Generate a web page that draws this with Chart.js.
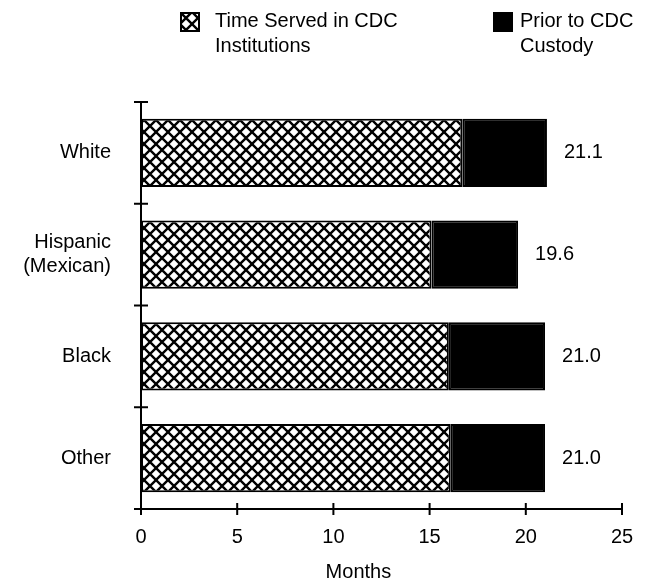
<!DOCTYPE html>
<html lang="en">
<head>
<meta charset="UTF-8">
<title>Months served by ethnicity</title>
<script src="https://cdn.jsdelivr.net/npm/chart.js@4.4.0/dist/chart.umd.min.js"></script>
<style>
    html, body { margin: 0; padding: 0; background: #fff; }
    #box { width: 662px; height: 583px; position: relative; }
</style>
</head>
<body>
<div id="box"><canvas id="myChart"></canvas></div>
<script>
    // values
    const groups = ['White', ['Hispanic', '(Mexican)'], 'Black', 'Other'];
    const seriesNames = [['Time Served in CDC', 'Institutions'], ['Prior to CDC', 'Custody']];
    const servedCDC = [16.7, 15.1, 16.0, 16.1];
    const priorCustody = [4.4, 4.5, 5.0, 4.9];
    const totalLabels = ['21.1', '19.6', '21.0', '21.0'];
    const xTicks = [0, 5, 10, 15, 20, 25];
    const xTitle = 'Months';

    const FONT = "'Liberation Sans', Arial, sans-serif";
    Chart.defaults.font.family = FONT;
    Chart.defaults.font.size = 20;
    Chart.defaults.color = '#000';

    // crosshatch fill
    function crosshatch() {
        const c = document.createElement('canvas');
        c.width = 12; c.height = 12;
        const g = c.getContext('2d');
        g.fillStyle = '#fff';
        g.fillRect(0, 0, 12, 12);
        g.strokeStyle = '#000';
        g.lineWidth = 2.4;
        g.beginPath();
        g.moveTo(-2, -2); g.lineTo(14, 14);
        g.moveTo(14, -2); g.lineTo(-2, 14);
        g.stroke();
        return g.createPattern(c, 'repeat');
    }
    const hatch = crosshatch();
    const fills = [hatch, '#000'];

    function seg(ctx, x1, y1, x2, y2) {
        ctx.beginPath(); ctx.moveTo(x1, y1); ctx.lineTo(x2, y2); ctx.stroke();
    }

    const decor = {
        id: 'decor',
        afterDraw(chart) {
            const ctx = chart.ctx, xs = chart.scales.x, ys = chart.scales.y;
            ctx.save();
            ctx.strokeStyle = '#000';
            ctx.lineWidth = 2;

            // ticks that cross the month axis
            xTicks.forEach(v => {
                const px = xs.getPixelForValue(v);
                seg(ctx, px, xs.top - 6, px, xs.top + 6);
            });
            // ticks between the groups
            const n = groups.length, step = (ys.bottom - ys.top) / n;
            for (let i = 0; i <= n; i++) {
                const py = ys.top + i * step;
                seg(ctx, ys.right - 7, py, ys.right + 7, py);
            }

            ctx.fillStyle = '#000';
            ctx.font = '20px ' + FONT;
            ctx.textBaseline = 'middle';

            // totals at the end of each bar
            const meta = chart.getDatasetMeta(1);
            meta.data.forEach((bar, i) => {
                ctx.textAlign = 'left';
                ctx.fillText(totalLabels[i], bar.x + 17, bar.y);
            });

            // axis title
            ctx.textAlign = 'center';
            ctx.fillText(xTitle, xs.getPixelForValue(11.3), 572);

            // legend
            const lx = [180, 493], tx = [215, 520];
            seriesNames.forEach((name, k) => {
                ctx.fillStyle = fills[k];
                ctx.fillRect(lx[k], 12, 20, 20);
                ctx.strokeRect(lx[k] + 1, 13, 18, 18);
                ctx.fillStyle = '#000';
                ctx.textAlign = 'left';
                name.forEach((line, j) => ctx.fillText(line, tx[k], 21 + j * 25));
            });
            ctx.restore();
        }
    };

    const ctx = document.getElementById('myChart').getContext('2d');
    const myChart = new Chart(ctx, {
        type: 'bar',
        data: {
            labels: groups,
            datasets: [
                { label: seriesNames[0].join(' '), data: servedCDC, backgroundColor: hatch },
                { label: seriesNames[1].join(' '), data: priorCustody, backgroundColor: '#000' }
            ]
        },
        options: {
            indexAxis: 'y',
            responsive: true,
            maintainAspectRatio: false,
            animation: false,
            layout: { padding: { top: 102, right: 40, left: 0, bottom: 0 } },
            datasets: {
                bar: {
                    borderColor: '#000',
                    borderWidth: 2,
                    borderSkipped: false,
                    barPercentage: 0.67,
                    categoryPercentage: 1
                }
            },
            plugins: {
                legend: { display: false },
                tooltip: { enabled: false }
            },
            scales: {
                x: {
                    stacked: true,
                    min: 0,
                    max: 25,
                    grid: { display: false, drawTicks: false },
                    border: { display: true, color: '#000', width: 2 },
                    ticks: { padding: 16, color: '#000', font: { size: 20 } },
                    afterBuildTicks: s => { s.ticks = xTicks.map(v => ({ value: v })); },
                    afterFit: s => { s.height = 74; }
                },
                y: {
                    stacked: true,
                    grid: { display: false, drawTicks: false },
                    border: { display: true, color: '#000', width: 2 },
                    ticks: { padding: 30, color: '#000', font: { size: 20 } },
                    afterFit: s => { s.width = 141; }
                }
            }
        },
        plugins: [decor]
    });
</script>
</body>
</html>
